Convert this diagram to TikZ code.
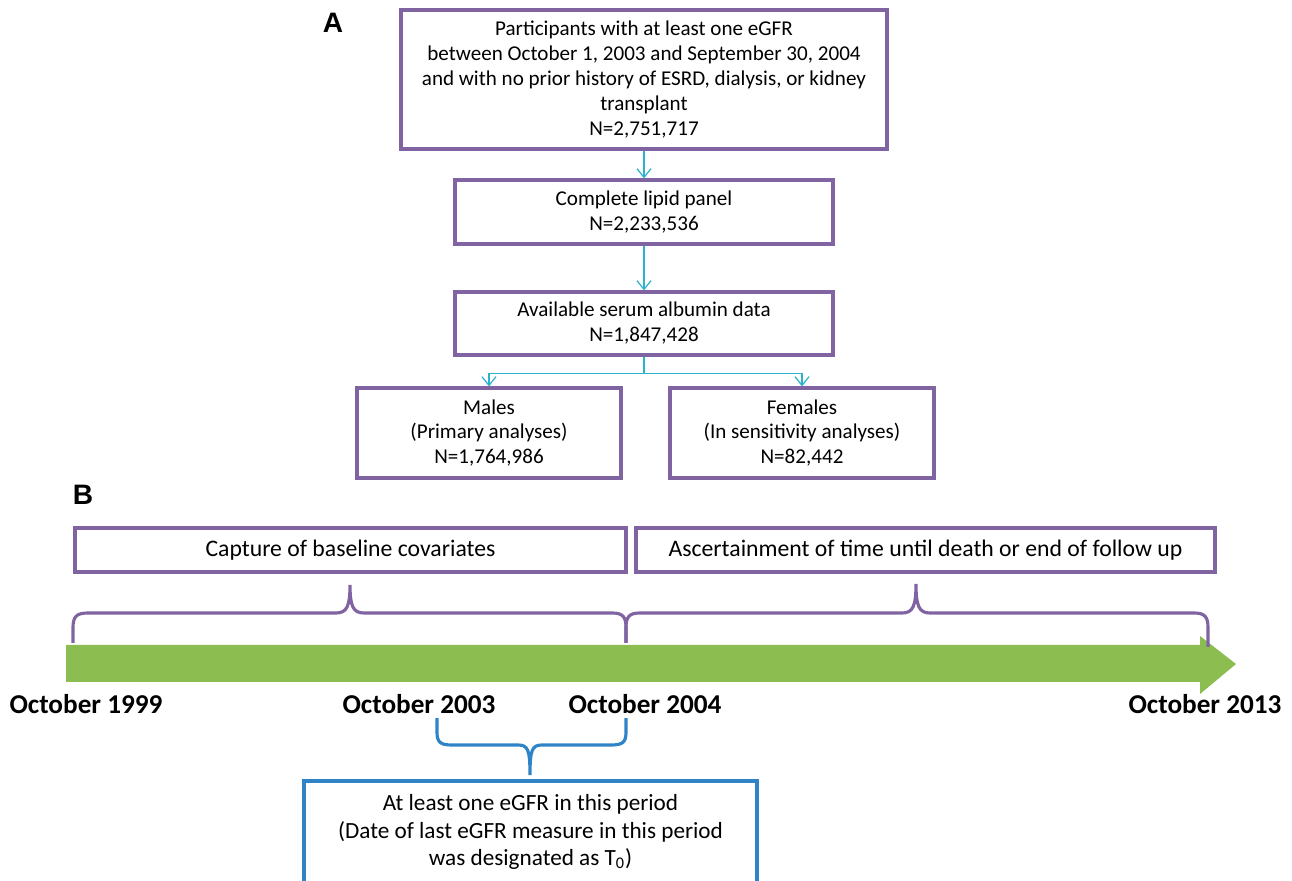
\documentclass[tikz,border=0pt]{standalone}
\usepackage{fontspec}
\setmainfont{Carlito}
\newfontfamily\arialfont{Liberation Sans}
\usetikzlibrary{arrows.meta}
\definecolor{boxpurple}{RGB}{128,100,162}
\definecolor{arrcyan}{RGB}{45,178,206}
\definecolor{bargreen}{RGB}{140,189,80}
\definecolor{boxblue}{RGB}{46,132,198}
\tikzset{
  pbox/.style={draw=boxpurple, line width=1.8pt, fill=white, align=center, inner sep=0pt,
     font=\fontsize{12}{14.2}\selectfont},
  tbox/.style={draw=boxpurple, line width=1.8pt, fill=white, align=center, inner sep=0pt,
     font=\fontsize{13.5}{16}\selectfont},
  flow/.style={draw=arrcyan, line width=0.7pt, -{Straight Barb[length=5pt,width=8pt,line width=0.7pt]}},
  flowline/.style={draw=arrcyan, line width=0.7pt},
  datelab/.style={font=\fontsize{15.5}{18}\selectfont\bfseries, inner sep=0pt},
  panellab/.style={font=\fontsize{16}{18}\selectfont\arialfont\bfseries, inner sep=0pt},
  pbrace/.style={draw=boxpurple, line width=1.8pt},
  bbrace/.style={draw=boxblue, line width=1.8pt}
}
\begin{document}
\begin{tikzpicture}[x=0.02cm,y=-0.02cm]
\useasboundingbox (0,0) rectangle (1292,881);

% Panel A
\node[panellab] (labA) at (333,23) {A};
\node[pbox, minimum width=486*0.02cm, minimum height=139*0.02cm] (b1) at (644,79.5)
  {Participants with at least one eGFR\\between October 1, 2003 and September 30, 2004\\and with no prior history of ESRD, dialysis, or kidney\\transplant\\N=2,751,717};
\node[pbox, minimum width=378*0.02cm, minimum height=64*0.02cm] (b2) at (644,212)
  {Complete lipid panel\\N=2,233,536};
\node[pbox, minimum width=378*0.02cm, minimum height=63*0.02cm] (b3) at (644,323.5)
  {Available serum albumin data\\N=1,847,428};
\node[pbox, minimum width=264*0.02cm, minimum height=90*0.02cm] (m) at (489,433)
  {Males\\(Primary analyses)\\N=1,764,986};
\node[pbox, minimum width=264*0.02cm, minimum height=90*0.02cm] (f) at (802,433)
  {Females\\(In sensitivity analyses)\\N=82,442};

\draw[flow] (b1.south) -- (b2.north);
\draw[flow] (b2.south) -- (b3.north);
\draw[flowline] (b3.south) -- ++(0,17) coordinate (j);
\draw[flow] (j) -| (m.north);
\draw[flow] (j) -| (f.north);

% Panel B
\node[panellab] (labB) at (83,495) {B};
\node[tbox, minimum width=551*0.02cm, minimum height=44*0.02cm] (cap) at (350.5,550)
  {Capture of baseline covariates};
\node[tbox, minimum width=579*0.02cm, minimum height=44*0.02cm] (asc) at (925.5,550)
  {Ascertainment of time until death or end of follow up};

% green timeline arrow
\fill[bargreen] (66,645) -- (1200,645) -- (1200,636) -- (1236,664) -- (1200,694) -- (1200,682) -- (66,682) -- cycle;
\coordinate (barstart) at (66,664);

% purple braces
\draw[pbrace] (73,643) -- (73,628) .. controls (73,617) and (76,613) .. (88,613)
  -- (336,613) .. controls (347,613) and (350,606) .. (350,585)
  .. controls (350,606) and (353,613) .. (364,613)
  -- (612,613) .. controls (623,613) and (626,617) .. (626,628) -- (626,643);
\draw[pbrace] (626,643) -- (626,628) .. controls (626,617) and (629,613) .. (640,613)
  -- (902,613) .. controls (913,613) and (916,606) .. (916,584)
  .. controls (916,606) and (919,613) .. (930,613)
  -- (1194,613) .. controls (1205,613) and (1208,617) .. (1208,628) -- (1208,647);

% dates
\node[datelab] (d1999) at (86,704) {October 1999};
\node[datelab] (d2003) at (419,704) {October 2003};
\node[datelab] (d2004) at (645,704) {October 2004};
\node[datelab] (d2013) at (1205,704) {October 2013};

% blue brace
\draw[bbrace] (437,718) -- (437,732) .. controls (437,742) and (440,745) .. (452,745)
  -- (518,745) .. controls (528,745) and (530,750) .. (530,775)
  .. controls (530,750) and (532,745) .. (542,745)
  -- (611,745) .. controls (623,745) and (626,742) .. (626,732) -- (626,718);

\node[draw=boxblue, line width=1.8pt, fill=white, align=center, inner sep=0pt,
  font=\fontsize{13.2}{15.6}\selectfont,
  minimum width=453*0.02cm, minimum height=102*0.02cm] (t0) at (530.5,832)
  {At least one eGFR in this period\\(Date of last eGFR measure in this period\\was designated as T\textsubscript{0})};
\end{tikzpicture}
\end{document}
